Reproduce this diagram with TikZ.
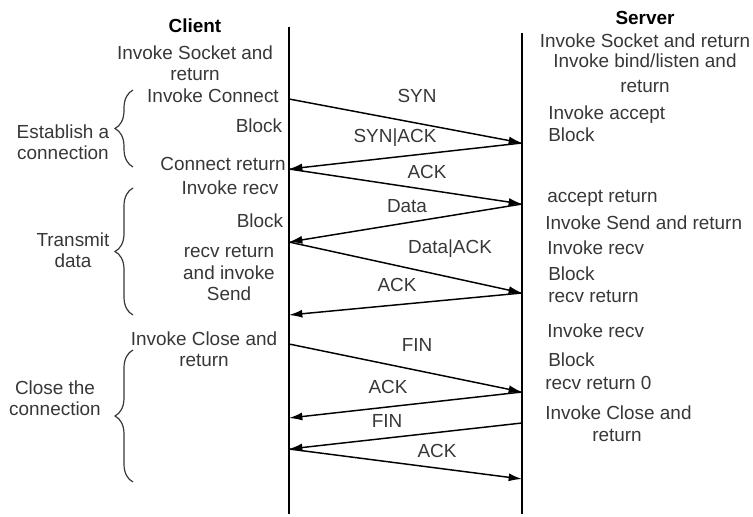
\documentclass[tikz,border=0pt]{standalone}
\usepackage{fontspec}
\setmainfont{Liberation Sans}
\usetikzlibrary{arrows.meta,decorations.pathreplacing}
\definecolor{txt}{RGB}{55,55,55}
\begin{document}
\begin{tikzpicture}[x=0.75pt,y=-0.75pt,
  mlbl/.style={inner sep=0pt, text=txt, font=\fontsize{14.2}{15.8}\selectfont, align=center},
  lbl/.style={mlbl, text height=0.72em, text depth=0pt},
  hdr/.style={lbl, font=\fontsize{14.2}{15.8}\selectfont\bfseries, text=black},
  lifeline/.style={line width=2.2pt},
  msg/.style={line width=1.1pt, -{Latex[length=10pt,width=6pt]}},
  grp/.style={decorate, decoration={brace, amplitude=13.5pt}, line width=0.9pt, draw=txt}]
\useasboundingbox (0,0) rectangle (753,517);

% lifelines
\coordinate (ctop) at (289,27);
\coordinate (cbot) at (289,514);
\coordinate (stop) at (522,33);
\coordinate (sbot) at (522,514);
\draw[lifeline] (ctop) -- (cbot);
\draw[lifeline] (stop) -- (sbot);

% message end points
\coordinate (c1) at (289,99);
\coordinate (c2) at (289,169);
\coordinate (c3) at (289,242);
\coordinate (c4) at (289,315);
\coordinate (c5) at (289,344);
\coordinate (c6) at (289,418);
\coordinate (c7) at (289,449);
\coordinate (s1) at (522,143);
\coordinate (s2) at (522,204);
\coordinate (s3) at (522,293);
\coordinate (s4) at (522,392);
\coordinate (s5) at (522,423);
\coordinate (s6) at (522,479);

\draw[msg] (c1) -- (s1);
\draw[msg] (s1) -- (c2);
\draw[msg] (c2) -- (s2);
\draw[msg] (s2) -- (c3);
\draw[msg] (c3) -- (s3);
\draw[msg] (s3) -- (c4);
\draw[msg] (c5) -- (s4);
\draw[msg] (s4) -- (c6);
\draw[msg] (s5) -- (c7);
\draw[msg] (c7) -- (s6);

% message labels
\node[lbl] (m1) at (417,98) {SYN};
\node[lbl] (m2) at (395,138) {SYN|ACK};
\node[lbl] (m3) at (427,174) {ACK};
\node[lbl] (m4) at (407,208) {Data};
\node[lbl] (m5) at (450,249) {Data|ACK};
\node[lbl] (m6) at (397,287) {ACK};
\node[lbl] (m7) at (417,347) {FIN};
\node[lbl] (m8) at (388,389) {ACK};
\node[lbl] (m9) at (387,423) {FIN};
\node[lbl] (m10) at (437,453) {ACK};

% client column
\node[hdr] (client) at (195,28) {Client};
\node[mlbl] (cl1) at (195,63) {Invoke Socket and\\return};
\node[lbl] (cl2) at (213,98) {Invoke Connect};
\node[lbl] (cl3) at (259,128) {Block};
\node[lbl] (cl4) at (223,166) {Connect return};
\node[lbl] (cl5) at (230,190) {Invoke recv};
\node[lbl] (cl6) at (260,223) {Block};
\node[mlbl] (cl7) at (229,273) {recv return\\and invoke\\Send};
\node[mlbl] (cl8) at (204,349) {Invoke Close and\\return};

% groups
\coordinate (b1a) at (133,167);
\coordinate (b1b) at (133,90);
\coordinate (b2a) at (133,315);
\coordinate (b2b) at (133,188);
\coordinate (b3a) at (133,482);
\coordinate (b3b) at (133,350);
\draw[grp] (b1a) -- (b1b);
\draw[grp] (b2a) -- (b2b);
\draw[grp] (b3a) -- (b3b);
\node[mlbl] (g1) at (63,142) {Establish a\\connection};
\node[mlbl] (g2) at (73,250) {Transmit\\data};
\node[mlbl] (g3) at (55,398) {Close the\\connection};

% server column
\node[hdr] (server) at (645,20) {Server};
\node[lbl] (sv1) at (645,43) {Invoke Socket and return};
\node[lbl] (sv2) at (645,63) {Invoke bind/listen and};
\node[lbl] (sv3) at (645,88) {return};
\node[lbl, anchor=west] (sv4) at (548,115) {Invoke accept};
\node[lbl, anchor=west] (sv5) at (548,137) {Block};
\node[lbl, anchor=west] (sv6) at (547,198) {accept return};
\node[lbl, anchor=west] (sv7) at (545,225) {Invoke Send and return};
\node[lbl, anchor=west] (sv8) at (547,250) {Invoke recv};
\node[lbl, anchor=west] (sv9) at (548,276) {Block};
\node[lbl, anchor=west] (sv10) at (548,298) {recv return};
\node[lbl, anchor=west] (sv11) at (547,333) {Invoke recv};
\node[lbl, anchor=west] (sv12) at (548,362) {Block};
\node[lbl, anchor=west] (sv13) at (545,385) {recv return 0};
\node[lbl, anchor=west] (sv14) at (545,415) {Invoke Close and};
\node[lbl] (sv15) at (617,437) {return};
\end{tikzpicture}
\end{document}
